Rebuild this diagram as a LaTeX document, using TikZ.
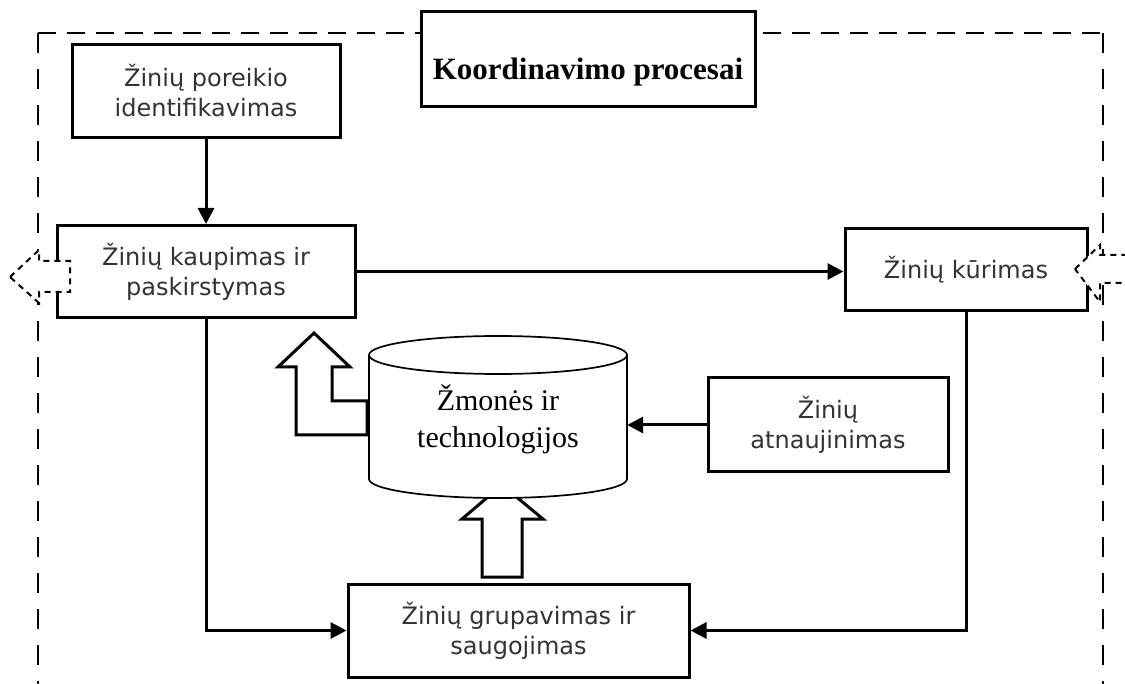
\documentclass[tikz,border=0pt]{standalone}
\usepackage{fontspec}
\setmainfont{Liberation Serif}
\newfontfamily\dvs{DejaVu Sans}
\usetikzlibrary{arrows.meta}
\begin{document}
\begin{tikzpicture}[x=1pt,y=-1pt,
  procbox/.style={draw, line width=3pt, fill=white, align=center, inner sep=0pt,
    font=\dvs\fontsize{24}{30}\selectfont, text=black!80},
  conn/.style={line width=3pt, -{Triangle[length=16pt,width=16pt]}},
  blockarrow/.style={draw, line width=3pt, fill=white, line join=miter},
  dasharrow/.style={draw, line width=2pt, fill=white, dash pattern=on 6pt off 5pt},
  framev/.style={line width=1.3pt, dash pattern=on 20pt off 16pt},
  frameh/.style={line width=1.3pt, dash pattern=on 18pt off 11pt}]
\useasboundingbox (0,0) rectangle (1125,684);
\clip (0,0) rectangle (1125,684);
% dashed frame
\draw[frameh] (38,33) -- (1103,33);
\draw[framev] (38,33) -- (38,700);
\draw[framev] (1103,33) -- (1103,700);
% block arrows
\draw[blockarrow] (314,333) -- (350,367) -- (332,367) -- (332,401) -- (367,401) -- (367,435) -- (296,435) -- (296,367) -- (278,367) -- cycle;
\draw[blockarrow] (502,485) -- (543,519) -- (522,519) -- (522,577) -- (482,577) -- (482,519) -- (462,519) -- cycle;
% cylinder
\draw[line width=1.7pt, fill=white] (369,355) -- (369,479) .. controls (369,489.5) and (426.8,498) .. (498,498) .. controls (569.2,498) and (627,489.5) .. (627,479) -- (627,355);
\draw[line width=1.7pt, fill=white] (498,355) ellipse [x radius=129, y radius=19];
\node[minimum width=258pt, minimum height=162pt, inner sep=0pt, align=center,
  font=\fontsize{30}{37}\selectfont] (cyl) at (498,419) {Žmonės ir\\technologijos};
% title
\node[draw, line width=3pt, fill=white, minimum width=334pt, minimum height=95pt, inner sep=0pt,
  text height=44pt, text depth=4pt,
  font=\bfseries\fontsize{31}{36}\selectfont] (title) at (588,59.5) {Koordinavimo procesai};
% boxes
\node[procbox, minimum width=268pt, minimum height=93pt] (b1) at (206,91) {Žinių poreikio\\identifikavimas};
\node[procbox, minimum width=298pt, minimum height=92pt] (b2) at (206,271.5) {Žinių kaupimas ir\\paskirstymas};
\node[procbox, minimum width=242pt, minimum height=82pt] (b3) at (966,270) {Žinių kūrimas};
\node[procbox, minimum width=240pt, minimum height=94pt] (atn) at (828,425) {Žinių\\atnaujinimas};
\node[procbox, minimum width=341pt, minimum height=93pt] (b5) at (518.5,630.5) {Žinių grupavimas ir\\saugojimas};
% connectors
\draw[conn] (b1.south) -- (b1.south |- b2.north);
\draw[conn] (b2.east) -- (b2.east -| b3.west);
\draw[conn] (b2.south) |- (b5.west);
\draw[conn] (b3.south) |- (b5.east);
\draw[conn] (atn.west) -- (atn.west -| cyl.east);
% dashed block arrows
\draw[dasharrow] (10,277) -- (39,250) -- (39,261) -- (70,261) -- (70,292) -- (39,292) -- (39,303) -- cycle;
\draw[dasharrow] (1075,269) -- (1100,245) -- (1100,255) -- (1135,255) -- (1135,283) -- (1100,283) -- (1100,302) -- cycle;
\end{tikzpicture}
\end{document}
